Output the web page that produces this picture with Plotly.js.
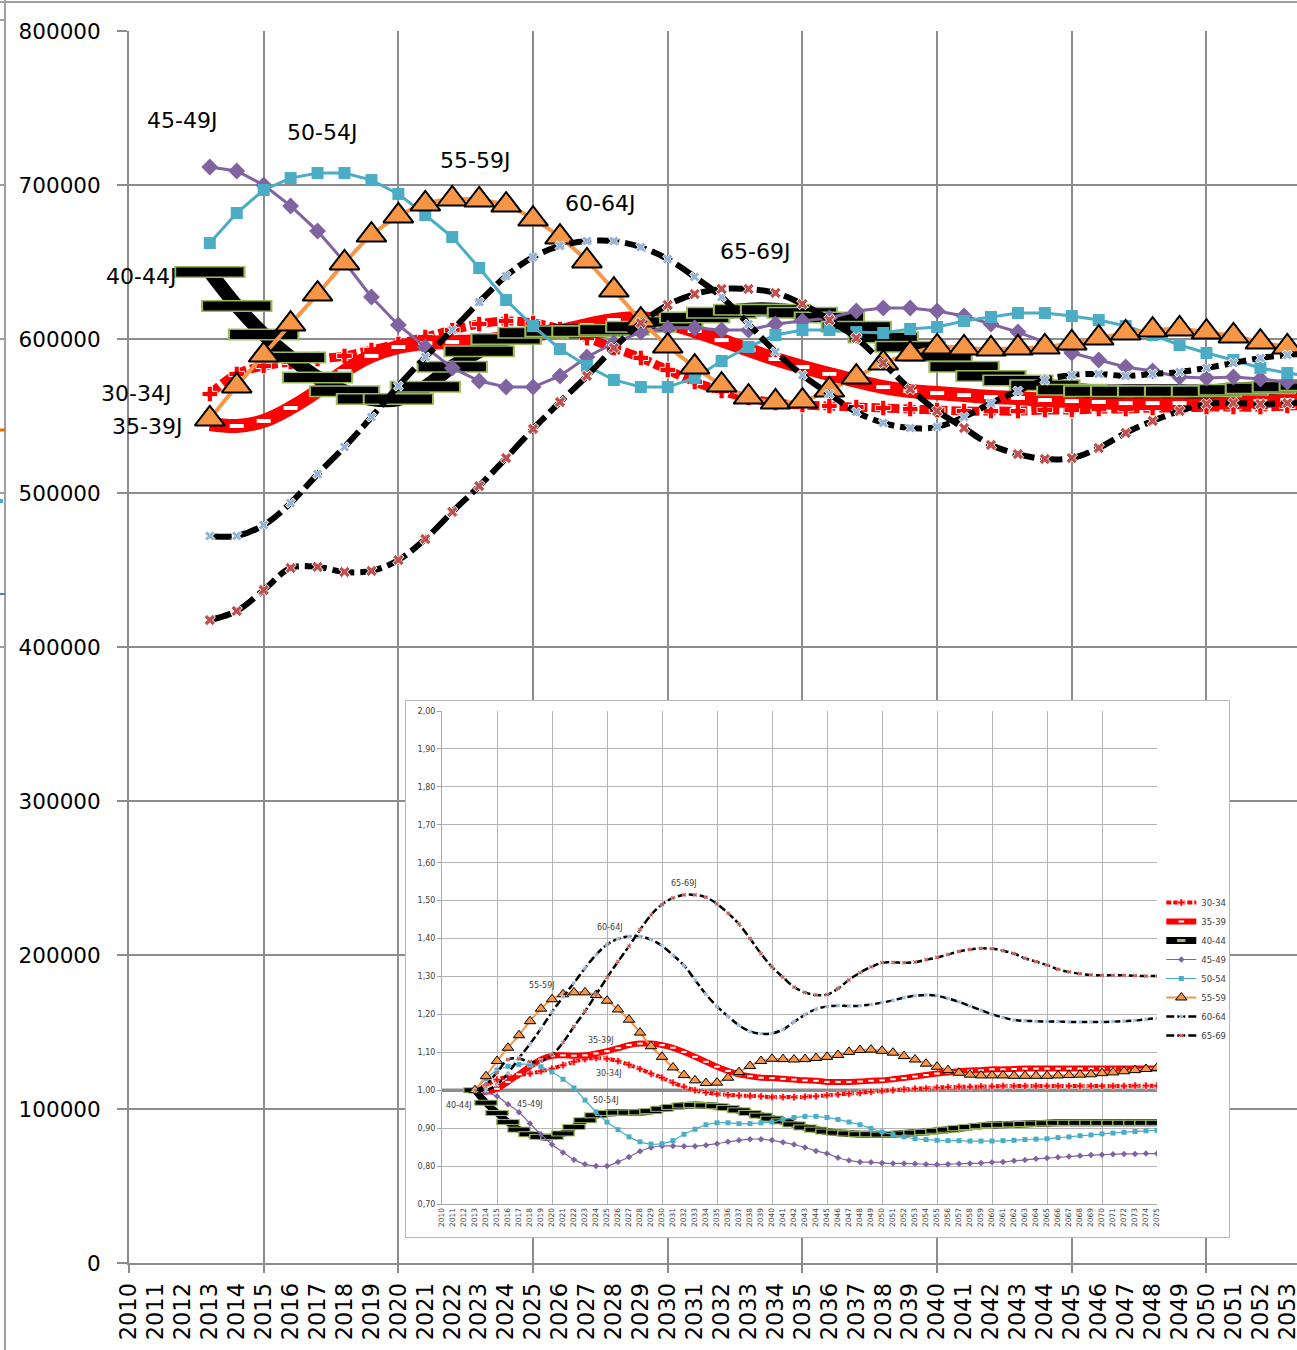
<!DOCTYPE html>
<html><head><meta charset="utf-8">
<script src="https://cdn.plot.ly/plotly-3.0.1.min.js"></script>
<style>
html,body{margin:0;padding:0;background:#fff;overflow:hidden;width:1297px;height:1350px;}
#main{position:absolute;left:0;top:0;width:1297px;height:1350px;}
#inset{position:absolute;left:405px;top:700px;width:825px;height:538px;box-sizing:border-box;border:1px solid #b8b8b8;background:#fff;}
</style></head><body>
<div id="main"></div><div id="inset"></div>
<script>
// ---------- MAIN CHART DATA (absolute numbers) ----------
const yearsMain = [2013,2014,2015,2016,2017,2018,2019,2020,2021,2022,2023,2024,2025,2026,2027,2028,2029,2030,2031,2032,2033,2034,2035,2036,2037,2038,2039,2040,2041,2042,2043,2044,2045,2046,2047,2048,2049,2050,2051,2052,2053,2054];
const pop30_34 = [564300,577300,582500,585100,587000,589000,592900,596800,601300,605800,609700,611700,610400,606500,600600,594200,587700,579900,572100,566200,561700,558400,557100,556500,555800,555200,554500,553900,553200,553200,553200,553900,553900,554500,554500,555200,555200,555800,555800,555800,556500,556800];
const pop35_39 = [544800,543500,546800,555200,566200,579200,589000,594800,597400,598000,598700,600600,602600,605200,609100,612300,613600,610400,605200,599300,592900,587000,581800,577300,572700,568800,566200,564900,563600,562300,561700,560400,559700,559100,558400,558400,558400,558400,559100,559700,560400,561500];
const pop40_44 = [643500,621500,603000,588000,575000,566000,561000,561000,569000,582000,592000,600000,604000,605000,605000,606000,608000,611000,614000,617000,619000,619000,617000,614000,608000,601000,595000,589000,582000,576000,573000,570000,567000,566000,566000,566000,566000,566000,567000,568000,569000,570000];
const pop45_49 = [711700,709100,700000,686400,670100,650000,627300,609100,594800,581200,572700,568800,568800,576000,588300,597400,604500,607100,607100,605800,605800,609700,611700,613600,618200,620100,620100,618200,614900,609700,604500,598000,590900,586400,581800,579200,575300,574700,575300,574000,572100,571500];
const pop50_54 = [662300,681800,696800,704500,707800,707800,703200,694200,680500,666200,646100,625300,608400,593500,582500,573400,568800,568800,574700,585700,594800,602600,605800,605800,604500,603900,606500,607800,611700,614300,616900,616900,614900,612300,608400,602600,596100,590900,586400,581200,577900,575500];
const pop55_59 = [548100,569500,589600,609700,629200,649400,667500,679900,687700,690900,690300,687000,677900,666200,650700,631800,612300,595400,581800,570100,562300,559100,559700,566900,575300,584400,590300,594800,594200,593500,594200,594800,597400,600600,603900,605800,606500,604500,602000,598000,594800,591000];
const pop60_64 = [472100,472100,479200,493500,512300,529900,549300,569500,588300,605800,624000,640900,653200,660400,663600,663600,659700,651900,640300,627300,609700,591600,576600,564300,552600,545500,542200,542900,549300,558400,566200,573400,576600,577300,576000,577300,578600,581200,584400,587700,589600,590600];
const pop65_69 = [417500,423400,437000,451300,452000,448700,449400,456500,470100,487700,504500,522700,541600,559100,576000,594200,610400,622100,629200,632500,632500,629900,622700,612300,600600,584400,567500,553200,542200,531200,525300,522100,522700,529200,539000,546800,553200,557800,558400,557800,558400,558400];

// ---------- INSET DATA (ratio to 2013) ----------
const yearsInset = [2013,2014,2015,2016,2017,2018,2019,2020,2021,2022,2023,2024,2025,2026,2027,2028,2029,2030,2031,2032,2033,2034,2035,2036,2037,2038,2039,2040,2041,2042,2043,2044,2045,2046,2047,2048,2049,2050,2051,2052,2053,2054,2055,2056,2057,2058,2059,2060,2061,2062,2063,2064,2065,2066,2067,2068,2069,2070,2071,2072,2073,2074,2075];
const ratio30_34 = [1.000,1.013,1.028,1.035,1.040,1.044,1.050,1.057,1.066,1.075, 1.082,1.085,1.083,1.077,1.067,1.056,1.044,1.033,1.020,1.009, 1.000,0.994,0.990,0.988,0.986,0.985,0.984,0.982,0.982,0.982, 0.983,0.984,0.987,0.989,0.991,0.993,0.996,0.998,1.000,1.002, 1.004,1.005,1.007,1.008,1.009,1.009,1.010,1.010,1.011,1.011, 1.011,1.011,1.011,1.011,1.011,1.011,1.011,1.011,1.011,1.011, 1.012,1.012,1.012];
const ratio35_39 = [1.000,0.996,1.004,1.022,1.042,1.063,1.081,1.091,1.092,1.091, 1.092,1.097,1.103,1.111,1.119,1.123,1.123,1.119,1.112,1.101, 1.088,1.075,1.062,1.051,1.042,1.037,1.033,1.032,1.030,1.028, 1.026,1.025,1.022,1.022,1.022,1.023,1.025,1.026,1.029,1.032, 1.036,1.040,1.044,1.047,1.050,1.052,1.053,1.055,1.055,1.056, 1.057,1.057,1.057,1.057,1.057,1.057,1.057,1.057,1.057,1.057, 1.057,1.057,1.057];
const ratio40_44 = [1.000,0.967,0.940,0.916,0.896,0.884,0.877,0.877,0.886,0.903, 0.921,0.934,0.940,0.941,0.941,0.942,0.945,0.951,0.956,0.960, 0.961,0.960,0.958,0.953,0.947,0.940,0.933,0.925,0.918,0.910, 0.902,0.896,0.891,0.888,0.886,0.884,0.884,0.883,0.884,0.886, 0.888,0.890,0.893,0.896,0.900,0.903,0.906,0.908,0.909,0.910, 0.911,0.912,0.913,0.914,0.914,0.914,0.914,0.914,0.914,0.914, 0.914,0.914,0.914];
const ratio45_49 = [1.000,0.994,0.984,0.963,0.942,0.912,0.883,0.857,0.836,0.817, 0.805,0.800,0.800,0.811,0.824,0.839,0.849,0.853,0.853,0.852, 0.852,0.855,0.859,0.864,0.868,0.871,0.871,0.868,0.863,0.857, 0.849,0.840,0.833,0.822,0.815,0.811,0.810,0.808,0.807,0.807, 0.806,0.805,0.804,0.805,0.806,0.807,0.808,0.810,0.811,0.814, 0.816,0.819,0.821,0.823,0.825,0.827,0.829,0.830,0.831,0.832, 0.832,0.833,0.833];
const ratio50_54 = [1.000,1.030,1.053,1.063,1.068,1.068,1.062,1.048,1.029,1.006, 0.974,0.943,0.916,0.896,0.877,0.864,0.858,0.859,0.867,0.884, 0.897,0.909,0.914,0.914,0.912,0.912,0.914,0.916,0.923,0.928, 0.931,0.931,0.928,0.923,0.916,0.909,0.899,0.890,0.883,0.877, 0.872,0.870,0.868,0.867,0.867,0.866,0.866,0.866,0.867,0.868, 0.870,0.871,0.872,0.875,0.877,0.880,0.882,0.885,0.887,0.889, 0.891,0.893,0.894];
const ratio55_59 = [1.000,1.037,1.077,1.112,1.145,1.182,1.215,1.240,1.253,1.258, 1.258,1.251,1.236,1.213,1.186,1.152,1.116,1.088,1.060,1.040, 1.026,1.019,1.020,1.033,1.048,1.064,1.077,1.083,1.082,1.081, 1.082,1.085,1.088,1.093,1.101,1.106,1.107,1.104,1.099,1.090, 1.081,1.070,1.062,1.053,1.046,1.041,1.039,1.039,1.039,1.038, 1.038,1.038,1.038,1.039,1.040,1.041,1.042,1.045,1.047,1.050, 1.053,1.056,1.059];
const ratio60_64 = [1.000,1.000,1.015,1.045,1.085,1.122,1.163,1.206,1.246,1.283, 1.322,1.357,1.384,1.399,1.406,1.406,1.397,1.381,1.356,1.329, 1.291,1.253,1.221,1.195,1.171,1.155,1.149,1.150,1.160,1.180, 1.199,1.214,1.221,1.223,1.222,1.223,1.226,1.231,1.237,1.244, 1.249,1.251,1.249,1.242,1.233,1.222,1.211,1.200,1.192,1.185, 1.183,1.182,1.181,1.181,1.180,1.180,1.180,1.180,1.181,1.182, 1.184,1.187,1.190];
const ratio65_69 = [1.000,1.015,1.047,1.081,1.083,1.075,1.077,1.093,1.126,1.168, 1.208,1.252,1.297,1.339,1.380,1.423,1.462,1.490,1.507,1.515, 1.515,1.509,1.491,1.467,1.438,1.400,1.360,1.325,1.298,1.272, 1.258,1.251,1.252,1.268,1.291,1.310,1.325,1.336,1.337,1.336, 1.338,1.344,1.350,1.358,1.366,1.371,1.374,1.373,1.368,1.360, 1.348,1.339,1.330,1.319,1.312,1.307,1.304,1.303,1.303,1.303, 1.302,1.301,1.301];
const baselineYears = [2010, 2075];
const baselineRatio = [1.00, 1.00];

const seriesNames = ['30-34','35-39','40-44','45-49','50-54','55-59','60-64','65-69'];
const mainLabelTexts = ['45-49J','50-54J','55-59J','60-64J','65-69J','40-44J','30-34J','35-39J'];
const insetLabelTexts = ['65-69J','60-64J','55-59J','35-39J','30-34J','50-54J','45-49J','40-44J'];

// ---------- styles ----------
const COL = {red:'#ff0000', purple:'#8064a2', cyan:'#4bacc6', orange:'#f79646', green:'#9bbb59', lblue:'#95b3d7', brick:'#c0504d', grid:'#8c8c8c', igrid:'#b4b4b4'};
const FONT = 'DejaVu Sans, Verdana, sans-serif';

function rectMarkers(xs, ys, bigSize, smallSize, bigW, smallW, name, xa){
  const x=[], y=[], size=[], lw=[], col=[];
  xs.forEach((v,i)=>{ x.push(v,v); y.push(ys[i],ys[i]); size.push(bigSize,smallSize); lw.push(bigW,smallW); col.push(COL.green,'#000000'); });
  return {type:'scatter', mode:'markers', x:x, y:y, name:name, showlegend:false, hoverinfo:'skip', xaxis:xa,
    marker:{symbol:'line-ew', size:size, color:col, opacity:1, line:{width:lw, color:col}}};
}

function buildTraces(xs, d, s, legend){
  const t = [];
  const xa = 'x2';
  t.push({type:'scatter', mode:'lines+markers', name:seriesNames[0], x:xs, y:d[0], showlegend:legend, xaxis:'x',
    line:{color:COL.red, width:s.w30, dash:s.dash30, shape:'spline', smoothing:1},
    marker:{symbol:'cross', size:s.m30, color:COL.red, line:{color:'#ffffff', width:s.lw30}}});
  t.push({type:'scatter', mode:'lines+markers', name:seriesNames[1], x:xs, y:d[1], showlegend:legend, xaxis:xa,
    line:{color:COL.red, width:s.w35, shape:'spline', smoothing:1},
    marker:{symbol:'line-ew', size:s.m35, color:'#ffffff', line:{width:s.lw35, color:'#ffffff'}}});
  t.push({type:'scatter', mode:'lines+markers', name:seriesNames[2], x:xs, y:d[2], showlegend:legend, xaxis:xa,
    line:{color:'#000000', width:s.w40, shape:'spline', smoothing:1},
    marker:{symbol:'line-ew', size:s.m40legend, color:COL.green, line:{width:s.lw40legend, color:COL.green}}});
  t.push(rectMarkers(xs, d[2], s.rb, s.rs, s.rbw, s.rsw, seriesNames[2], xa));
  t.push({type:'scatter', mode:'lines+markers', name:seriesNames[3], x:xs, y:d[3], showlegend:legend, xaxis:xa,
    line:{color:COL.purple, width:s.w45, shape:s.shapeSimple, smoothing:1},
    marker:{symbol:'diamond', size:s.m45, color:COL.purple}});
  t.push({type:'scatter', mode:'lines+markers', name:seriesNames[4], x:xs, y:d[4], showlegend:legend, xaxis:xa,
    line:{color:COL.cyan, width:s.w50, shape:s.shapeSimple, smoothing:1},
    marker:{symbol:'square', size:s.m50, color:COL.cyan}});
  t.push({type:'scatter', mode:'lines+markers', name:seriesNames[5], x:xs, y:d[5], showlegend:legend, xaxis:xa,
    line:{color:COL.orange, width:s.w55, shape:'spline', smoothing:1},
    marker:{symbol:'triangle-up', size:s.m55, color:COL.orange, line:{color:'#000000', width:s.lw55}}});
  t.push({type:'scatter', mode:'lines+markers', name:seriesNames[6], x:xs, y:d[6], showlegend:legend, xaxis:xa,
    line:{color:'#000000', width:s.w60, dash:s.dash60, shape:'spline', smoothing:1},
    marker:{symbol:'x', size:s.m60, color:COL.lblue, line:{color:'#ffffff', width:s.lw60}}});
  t.push({type:'scatter', mode:'lines+markers', name:seriesNames[7], x:xs, y:d[7], showlegend:legend, xaxis:xa,
    line:{color:'#000000', width:s.w65, dash:s.dash60, shape:'spline', smoothing:1},
    marker:{symbol:'x', size:s.m65, color:COL.brick, line:{color:'#ffffff', width:s.lw60}}});
  t.forEach(tr=>{tr.hoverinfo='skip'; tr.yaxis='y';});
  return t;
}

// ---------- MAIN ----------
const mainTraces = buildTraces(yearsMain, [pop30_34,pop35_39,pop40_44,pop45_49,pop50_54,pop55_59,pop60_64,pop65_69], {
  w30:9, dash30:'12px,4px', m30:13, lw30:1,
  w35:14, m35:10, lw35:4,
  w40:14, m40legend:8, lw40legend:4, rb:51, rs:48, rbw:12, rsw:9,
  w45:3, m45:13, w50:3, m50:12, shapeSimple:'linear',
  w55:4, m55:26, lw55:2,
  w60:6, w65:6, dash60:'22px,6px', m60:9, m65:10, lw60:1
}, false);

const px2paperX = p => (p-129)/1168, px2paperY = p => (1263-p)/1232;
const edge = {type:'line', xref:'paper', yref:'paper', line:{color:'#a0a0a0', width:2}};
const mainShapes = [
  Object.assign({}, edge, {x0:px2paperX(5), x1:px2paperX(5), y0:px2paperY(0), y1:px2paperY(1350)}),
  Object.assign({}, edge, {x0:px2paperX(0), x1:px2paperX(1297), y0:px2paperY(2), y1:px2paperY(2)}),
];
[20,185,339,493,647].forEach(yy=>mainShapes.push(Object.assign({}, edge, {x0:px2paperX(0), x1:px2paperX(5), y0:px2paperY(yy), y1:px2paperY(yy)})));
mainShapes.push({type:'line', xref:'paper', yref:'paper', x0:px2paperX(0), x1:px2paperX(5), y0:px2paperY(430), y1:px2paperY(430), line:{color:'#e46c0a', width:3}});
mainShapes.push({type:'line', xref:'paper', yref:'paper', x0:px2paperX(0), x1:px2paperX(3), y0:px2paperY(501), y1:px2paperY(501), line:{color:'#4bacc6', width:4}});
mainShapes.push({type:'line', xref:'paper', yref:'paper', x0:px2paperX(0), x1:px2paperX(5), y0:px2paperY(594), y1:px2paperY(594), line:{color:'#4f81bd', width:2}});

const mainAnn = [
  [2011.97, 741600], [2017.16, 734400], [2022.84, 715600], [2027.48, 688300], [2033.24, 657100],
  [2010.45, 640300], [2010.26, 564900], [2010.67, 542900]
].map((p,i)=>({x:p[0], y:p[1], xref:'x', yref:'y', text:mainLabelTexts[i], showarrow:false, font:{family:FONT, size:22, color:'#000'}}));

const xr = [2010, 2053.36];
const mainLayout = {
  width:1297, height:1350,
  margin:{l:129, r:0, t:31, b:87, autoexpand:false},
  paper_bgcolor:'#ffffff', plot_bgcolor:'rgba(0,0,0,0)',
  showlegend:false,
  font:{family:FONT, color:'#000'},
  xaxis:{range:xr, tickmode:'linear', tick0:2010, dtick:1, tickangle:-90, showgrid:false, zeroline:false,
    ticks:'outside', ticklen:9, tickcolor:'rgba(0,0,0,0)', showline:true, linecolor:COL.grid, linewidth:2,
    ticklabeloverflow:'allow', tickfont:{family:FONT, size:22.5, color:'#000'}},
  xaxis2:{range:xr, overlaying:'x', anchor:'y', side:'bottom', tickmode:'linear', tick0:2010, dtick:5,
    showgrid:true, gridcolor:COL.grid, gridwidth:2, showticklabels:false, ticks:'outside', ticklen:9, tickwidth:2, tickcolor:COL.grid, zeroline:false, showline:false},
  yaxis:{range:[0,800000], tickmode:'linear', tick0:0, dtick:100000, tickformat:'d', showgrid:true, gridcolor:COL.grid, gridwidth:2,
    ticks:'outside', ticklen:10, tickwidth:2, tickcolor:COL.grid, showline:true, linecolor:COL.grid, linewidth:2, zeroline:false,
    ticklabelstandoff:12, tickfont:{family:FONT, size:21.5, color:'#000'}},
  shapes:mainShapes,
  annotations:mainAnn
};

// ---------- INSET ----------
const insetTraces = [{type:'scatter', mode:'lines', x:baselineYears, y:baselineRatio, showlegend:false, hoverinfo:'skip', xaxis:'x', yaxis:'y',
  line:{color:'#8c8c8c', width:3.5}}].concat(buildTraces(yearsInset, [ratio30_34,ratio35_39,ratio40_44,ratio45_49,ratio50_54,ratio55_59,ratio60_64,ratio65_69], {
  w30:4, dash30:'5px,2px', m30:6, lw30:0.5,
  w35:6, m35:4, lw35:2,
  w40:7, m40legend:6, lw40legend:3, rb:17, rs:15, rbw:6, rsw:4,
  w45:1.2, m45:5, w50:1.2, m50:5, shapeSimple:'spline',
  w55:2, m55:10, lw55:1,
  w60:2.5, w65:2.5, dash60:'8px,3px', m60:4, m65:4, lw60:0.5
}, true));

const insetAnn = [
  [2032.03,1.546],[2025.3,1.43],[2019.12,1.277],[2024.48,1.132],[2025.21,1.045],[2024.94,0.974],[2018.03,0.963],[2011.57,0.96]
].map((p,i)=>({x:p[0], y:p[1], xref:'x', yref:'y', text:insetLabelTexts[i], showarrow:false, font:{family:FONT, size:8, color:'#404040'}}));

const ixr = [2010, 2075];
const insetLayout = {
  width:823, height:536,
  margin:{l:36, r:72, t:10, b:33, autoexpand:false},
  paper_bgcolor:'#ffffff', plot_bgcolor:'rgba(0,0,0,0)',
  separators:',.',
  font:{family:FONT, size:8, color:'#404040'},
  xaxis:{range:ixr, tickmode:'linear', tick0:2010, dtick:1, tickangle:-90, showgrid:false, zeroline:false, ticks:'',
    showline:true, linecolor:'#a6a6a6', linewidth:1, ticklabeloverflow:'allow', tickfont:{family:FONT, size:7.5, color:'#404040'}},
  xaxis2:{range:ixr, overlaying:'x', anchor:'y', side:'bottom', tickmode:'linear', tick0:2010, dtick:5, showgrid:true,
    gridcolor:COL.igrid, gridwidth:1, showticklabels:false, ticks:'', zeroline:false},
  yaxis:{range:[0.7,2.0], tickmode:'linear', tick0:0.7, dtick:0.1, tickformat:'.2f', showgrid:true, gridcolor:COL.igrid, gridwidth:1,
    ticks:'outside', ticklen:4, tickcolor:'#a6a6a6', showline:true, linecolor:'#a6a6a6', zeroline:false,
    tickfont:{family:FONT, size:8, color:'#404040'}},
  legend:{x:1.006, xanchor:'left', y:0.641, yanchor:'top', bgcolor:'rgba(0,0,0,0)', font:{family:FONT, size:8.5, color:'#404040'}, itemwidth:30, traceorder:'normal'},
  annotations:insetAnn
};

Plotly.newPlot('main', mainTraces, mainLayout, {staticPlot:true, displayModeBar:false});
Plotly.newPlot('inset', insetTraces, insetLayout, {staticPlot:true, displayModeBar:false});
</script></body></html>
